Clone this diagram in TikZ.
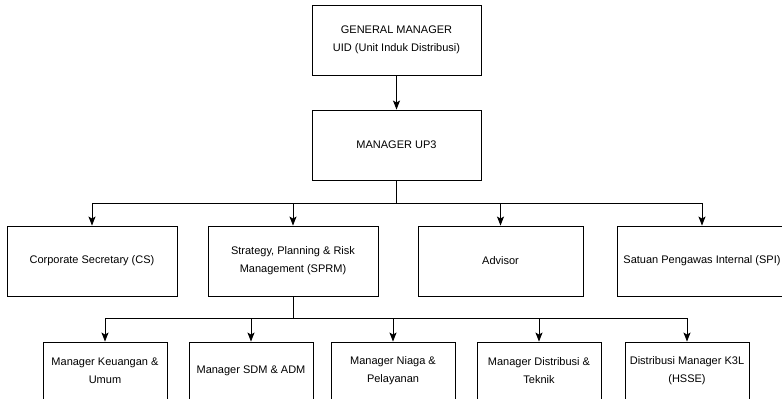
\documentclass[tikz,border=0pt]{standalone}
\usepackage{fontspec}
\setmainfont{Liberation Sans}
\usetikzlibrary{arrows.meta,positioning}

\begin{document}
\begin{tikzpicture}[x=1pt,y=-1pt,
		box/.style={draw, line width=0.9pt, align=center, inner sep=2pt,
			font=\fontsize{11}{18}\selectfont},
		topbox/.style={box, minimum width=169pt, minimum height=70pt},
		midbox/.style={box, minimum width=170pt, minimum height=70pt},
		lowbox/.style={box, minimum width=124pt, minimum height=57pt},
		arr/.style={-{Stealth[length=9pt,width=7pt,inset=2pt]}, line width=0.9pt}]
	\useasboundingbox (0,0) rectangle (782,399);
	\clip (0,0) rectangle (782,399);
	
	% Top of the chart
	\node[topbox] (gm) at (396.5,40) {GENERAL MANAGER\\UID (Unit Induk Distribusi)};
	\node[topbox] (up3) at (396.5,145) {MANAGER UP3};
	\draw[arr] (gm) -- (up3);
	
	% Second level
	\node[midbox] (cs) at (92,261) {Corporate Secretary (CS)};
	\node[midbox] (sprm) at (293,261) {Strategy, Planning \& Risk\\Management (SPRM)};
	\node[midbox, minimum width=165pt] (adv) at (500.5,261) {Advisor};
	\node[midbox] (spi) at (702,261) {Satuan Pengawas Internal (SPI)};
	
	\coordinate (bus1) at (396.5,203);
	\draw[line width=0.9pt] (up3) -- (bus1);
	\foreach \n in {cs,sprm,adv,spi} {
		\draw[arr] (bus1) -| (\n);
	}
	
	% Third level
	\node[lowbox] (keu) at (105,370.5) {Manager Keuangan \&\\Umum};
	\node[lowbox] (sdm) at (251,370.5) {Manager SDM \& ADM};
	\node[lowbox] (niaga) at (393,370.5) {Manager Niaga \&\\Pelayanan};
	\node[lowbox] (dist) at (539,370.5) {Manager Distribusi \&\\Teknik};
	\node[lowbox] (hsse) at (687,370.5) {Distribusi Manager K3L\\(HSSE)};
	
	\coordinate (bus2) at (293,318);
	\draw[line width=0.9pt] (sprm) -- (bus2);
	\foreach \n in {keu,sdm,niaga,dist,hsse} {
		\draw[arr] (bus2) -| (\n);
	}
\end{tikzpicture}
\end{document}
